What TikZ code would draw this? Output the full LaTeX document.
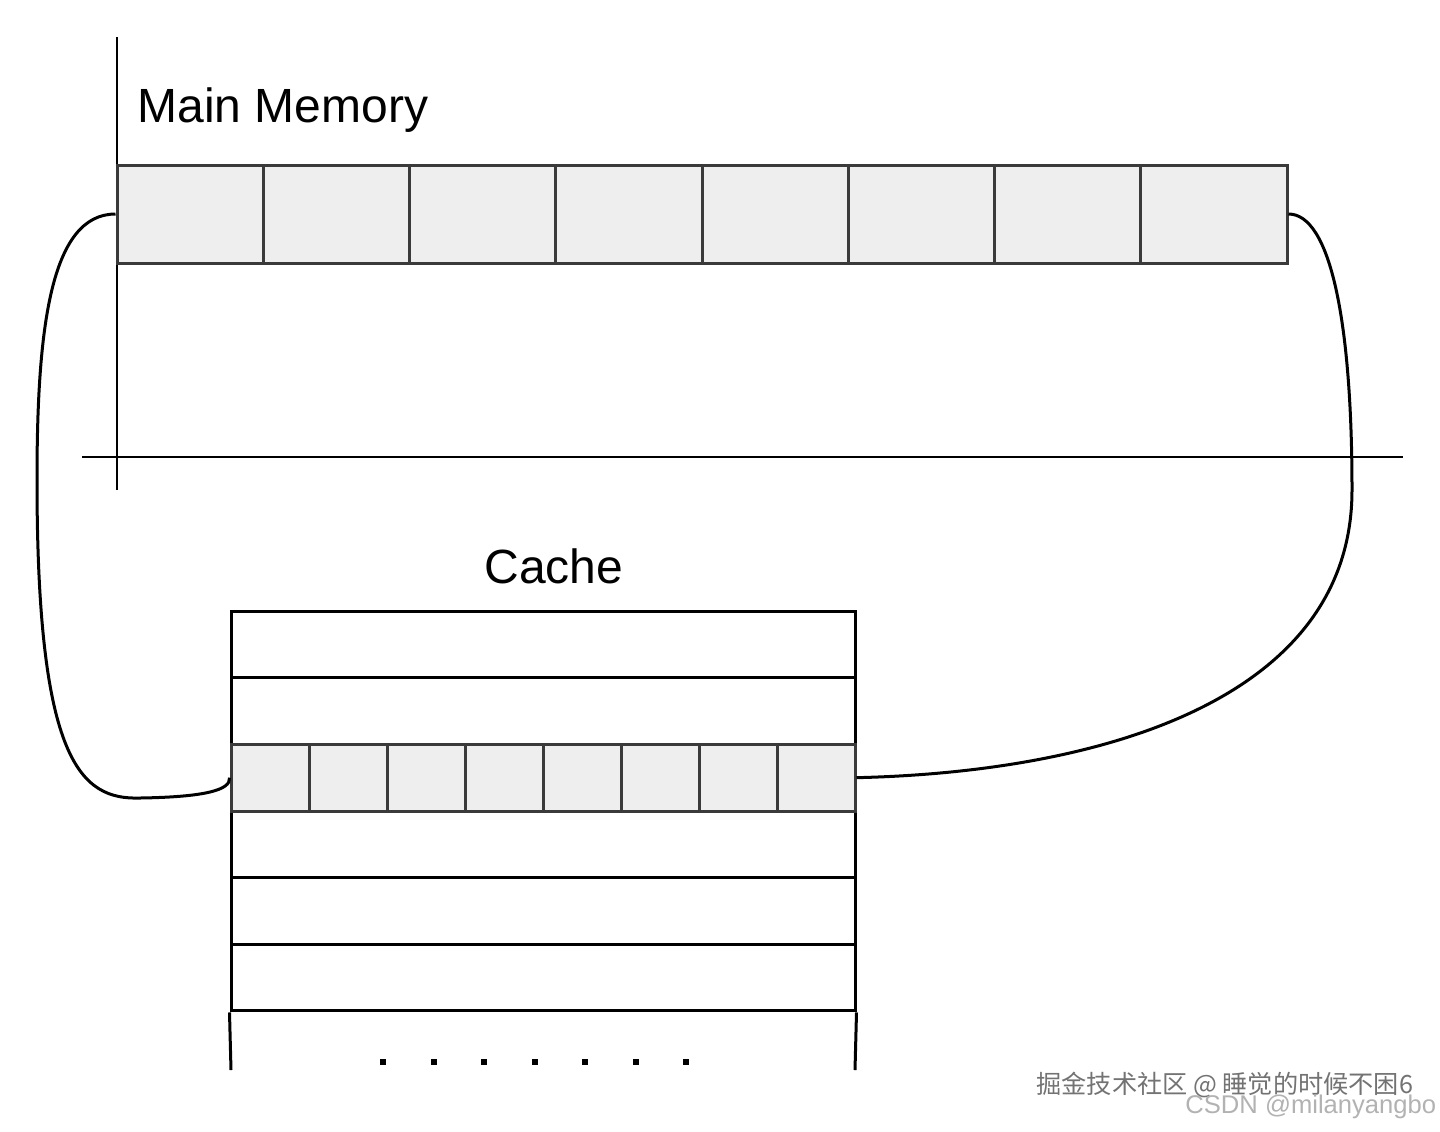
\documentclass[tikz,border=0pt]{standalone}
\usepackage{fontspec}
\setmainfont{Liberation Sans}
\newfontfamily\cjkfont{Noto Sans CJK SC}
\usetikzlibrary{positioning}
\definecolor{cellgray}{HTML}{EEEEEE}
\definecolor{edgegray}{HTML}{3A3A3A}
\tikzstyle{memcell} = [rectangle, minimum width=73.125pt, minimum height=49pt, inner sep=0pt, fill=cellgray, draw=edgegray, line width=1.5pt]
\tikzstyle{linecell} = [rectangle, minimum width=39pt, minimum height=33.33pt, inner sep=0pt, fill=cellgray, draw=edgegray, line width=1.5pt]
\tikzstyle{cacherow} = [rectangle, minimum width=312pt, minimum height=33.33pt, inner sep=0pt, draw=black, line width=1.5pt]
\tikzstyle{title} = [inner sep=0pt, font=\fontsize{24}{28}\selectfont]
\tikzstyle{axis} = [line width=1.3pt]
\tikzstyle{link} = [line width=1.5pt]
\tikzstyle{wmark} = [inner sep=0pt, color=black!55, font=\fontsize{12.6}{14}\selectfont]
\tikzstyle{wmarkb} = [inner sep=0pt, color=black!30, font=\fontsize{12.8}{14}\selectfont]

\begin{document}
\begin{tikzpicture}[x=0.5pt, y=-0.5pt]
    \useasboundingbox (0,0) rectangle (1440,1131);
    % axes
    \coordinate (ytop) at (117,37);
    \coordinate (ybot) at (117,490);
    \coordinate (xleft) at (82,457);
    \coordinate (xright) at (1403,457);
    \draw [axis] (ytop) -- (ybot);
    \draw [axis] (xleft) -- (xright);
    % main memory
    \node (mmlabel) [title, anchor=base west] at (137,122) {Main Memory};
    \node (m1) [memcell] at (190.125,214) {};
    \begin{scope}[node distance=73.125pt]
    \node (m2) [memcell, right of=m1] {};
    \node (m3) [memcell, right of=m2] {};
    \node (m4) [memcell, right of=m3] {};
    \node (m5) [memcell, right of=m4] {};
    \node (m6) [memcell, right of=m5] {};
    \node (m7) [memcell, right of=m6] {};
    \node (m8) [memcell, right of=m7] {};
    \end{scope}
    % cache
    \node (cachelabel) [title, anchor=base] at (554,583) {Cache};
    \node (r1) [cacherow] at (543,644.33) {};
    \begin{scope}[node distance=33.33pt]
    \node (r2) [cacherow, below of=r1] {};
    \node (r3) [cacherow, below of=r2] {};
    \node (r4) [cacherow, below of=r3] {};
    \node (r5) [cacherow, below of=r4] {};
    \node (r6) [cacherow, below of=r5] {};
    \end{scope}
    \node (c1) [linecell] at (270,777.67) {};
    \begin{scope}[node distance=39pt]
    \node (c2) [linecell, right of=c1] {};
    \node (c3) [linecell, right of=c2] {};
    \node (c4) [linecell, right of=c3] {};
    \node (c5) [linecell, right of=c4] {};
    \node (c6) [linecell, right of=c5] {};
    \node (c7) [linecell, right of=c6] {};
    \node (c8) [linecell, right of=c7] {};
    \end{scope}
    \coordinate (lfoot) at (231,1070);
    \coordinate (rfoot) at (855,1070);
    \draw [link] (r6.south west) -- (lfoot);
    \draw [link] (r6.south east) -- (rfoot);
    \foreach \k in {0,...,6}
        \fill (380+50.5*\k,1059) rectangle ++(6,6);
    % mapping curves
    \draw [link] (m1.west) .. controls (50,214) and (37,330) .. (37,480) .. controls (37,760) and (80,800) .. (140,798) .. controls (205,797) and (231,790) .. (c1.west);
    \draw [link] (m8.east) .. controls (1330,214) and (1352,320) .. (1352,490) .. controls (1352,700) and (1100,772) .. (c8.east);
    % watermarks
    \node (wm1) [wmark, anchor=west] at (1036,1085) {\cjkfont 掘金技术社区 @ 睡觉的时候不困6};
    \node (wm2) [wmarkb, anchor=west] at (1185,1107) {CSDN @milanyangbo};
\end{tikzpicture}
\end{document}
